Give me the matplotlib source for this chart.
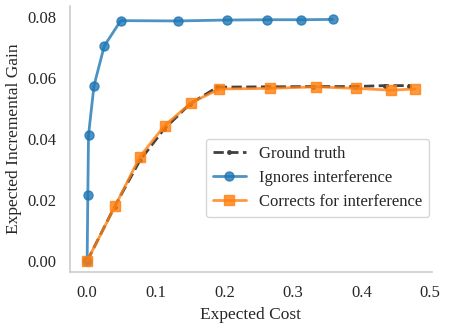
import matplotlib
matplotlib.use("Agg")
import matplotlib.pyplot as plt
import seaborn as sns

gt_x = [0.0, 0.040, 0.077, 0.112, 0.150, 0.190, 0.262, 0.330, 0.390, 0.434, 0.470]
gt_y = [0.0, 0.0178, 0.0330, 0.0432, 0.0515, 0.0570, 0.0571, 0.0572, 0.0572, 0.0575, 0.0575]

ign_x = [0.0, 0.001, 0.002, 0.010, 0.025, 0.049, 0.132, 0.204, 0.262, 0.312, 0.358]
ign_y = [0.0, 0.0216, 0.0413, 0.0575, 0.0705, 0.0788, 0.0787, 0.0790, 0.0791, 0.0791, 0.0792]

cor_x = [0.0, 0.041, 0.077, 0.113, 0.152, 0.193, 0.266, 0.334, 0.392, 0.443, 0.478]
cor_y = [0.0, 0.0181, 0.0342, 0.0444, 0.0519, 0.0564, 0.0566, 0.0571, 0.0566, 0.0560, 0.0564]

xticks = [0.0, 0.1, 0.2, 0.3, 0.4, 0.5]
yticks = [0.00, 0.02, 0.04, 0.06, 0.08]

sns.set_theme(style="white")
plt.rcParams['font.family'] = ['Liberation Serif', 'DejaVu Serif']

fig = plt.figure(figsize=(4.49, 3.30), dpi=100)
ax = fig.add_axes([70/449, 1 - 272/330, (432-70)/449, (272-6)/330])

ax.plot(gt_x, gt_y, color='#404040', ls='--', lw=2, marker='.', ms=5, label='Ground truth')
ax.plot(ign_x, ign_y, color='#1f77b4', lw=2, marker='o', ms=6.5, alpha=0.8, label='Ignores interference')
ax.plot(cor_x, cor_y, color='#ff7f0e', lw=2, marker='s', ms=6.5, alpha=0.8, label='Corrects for interference')

ax.set_xlim(-0.025, 0.503)
ax.set_ylim(-0.0036, 0.0836)
ax.set_xticks(xticks)
ax.set_xticklabels([f"{v:.1f}" for v in xticks])
ax.set_yticks(yticks)
ax.set_yticklabels([f"{v:.2f}" for v in yticks])
ax.tick_params(labelsize=12)
ax.set_xlabel('Expected Cost', fontsize=12.5)
ax.set_ylabel('Expected Incremental Gain', fontsize=12.5)
for s in ['top', 'right']:
    ax.spines[s].set_visible(False)
for s in ['left', 'bottom']:
    ax.spines[s].set_color('#cccccc')
    ax.spines[s].set_linewidth(1.2)

ax.legend(loc='lower right', bbox_to_anchor=(0.992, 0.207), fontsize=12, frameon=True,
          borderaxespad=0)

fig.savefig('out.png', dpi=100)
